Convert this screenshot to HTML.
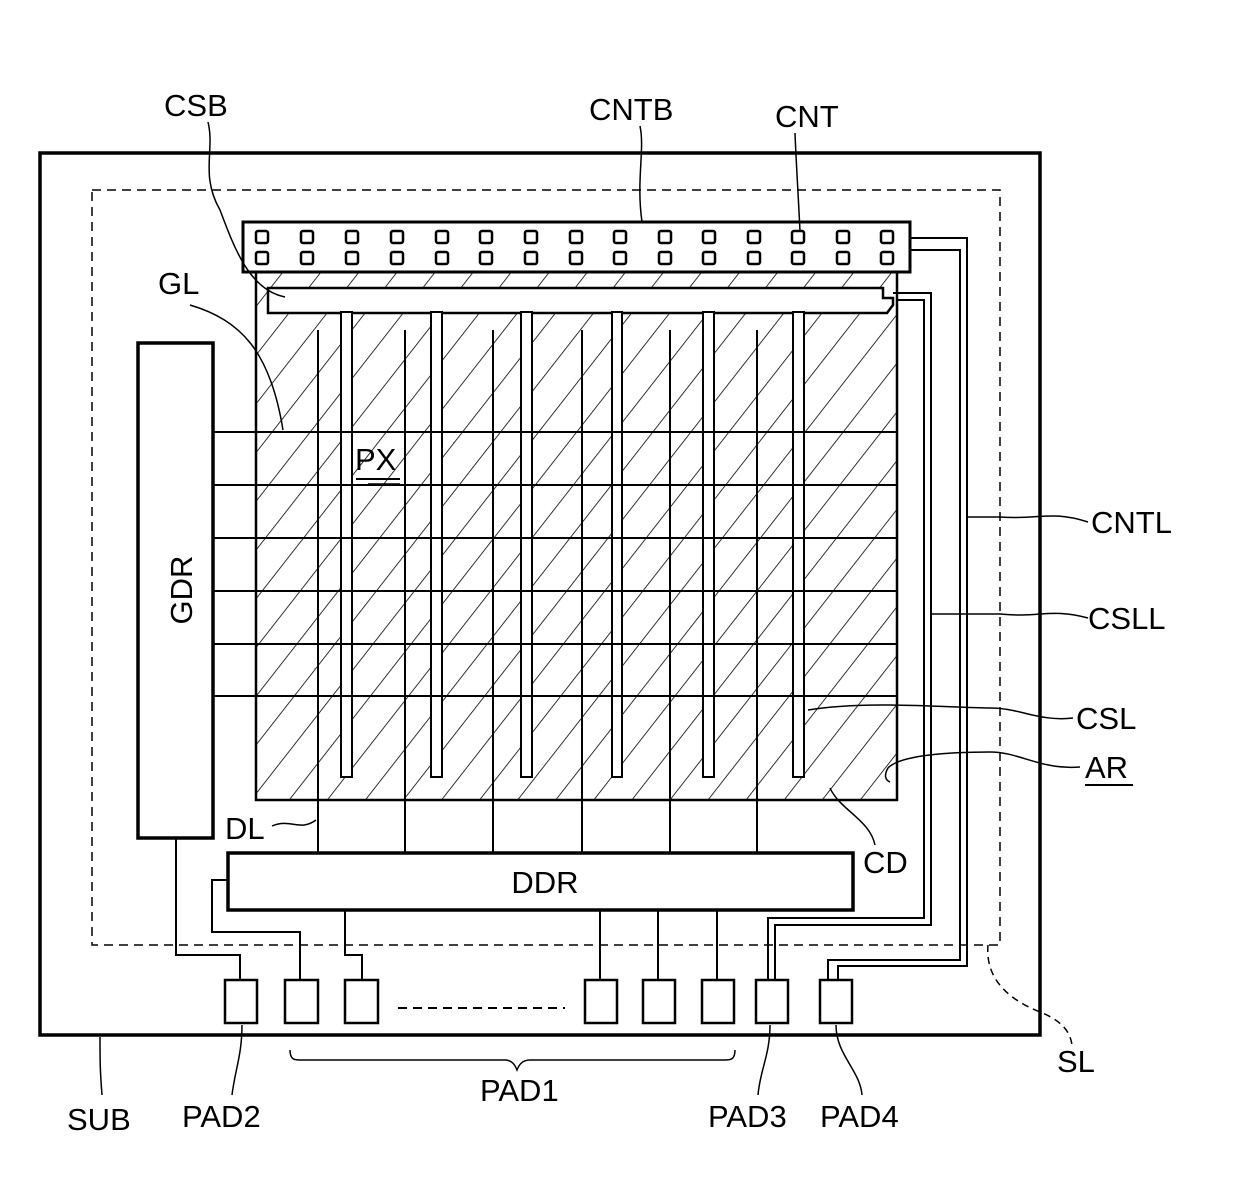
<!DOCTYPE html>
<html><head><style>
html,body{margin:0;padding:0;background:#fff}
svg{display:block}
text{font-family:"Liberation Sans",sans-serif;font-size:31px;fill:#000}
</style></head><body>
<svg width="1240" height="1187" viewBox="0 0 1240 1187" xmlns="http://www.w3.org/2000/svg">
<defs>
<pattern id="h" patternUnits="userSpaceOnUse" width="30" height="30" patternTransform="rotate(38)">
<line x1="0" y1="0" x2="0" y2="30" stroke="#000" stroke-width="1.6"/>
</pattern>
</defs>
<!-- SUB -->
<rect x="40" y="153" width="1000" height="882" fill="none" stroke="#000" stroke-width="3.5"/>
<!-- SL dashed -->
<rect x="92" y="190" width="908" height="755" fill="none" stroke="#000" stroke-width="1.5" stroke-dasharray="9,6"/>
<!-- AR hatch -->
<rect x="256" y="272" width="641" height="528" fill="url(#h)" stroke="#000" stroke-width="2.5"/>
<!-- CSB bar -->
<path d="M268 288 H883 V298 H893 V305 L887 313 H268 Z" fill="#fff" stroke="#000" stroke-width="2.5"/>
<!-- slots -->
<g fill="#fff" stroke="#000" stroke-width="2">
<rect x="341" y="312" width="11" height="465"/>
<rect x="431" y="312" width="11" height="465"/>
<rect x="521" y="312" width="11" height="465"/>
<rect x="612" y="312" width="10" height="465"/>
<rect x="703" y="312" width="11" height="465"/>
<rect x="793" y="312" width="11" height="465"/>
</g>
<!-- gate lines -->
<g stroke="#000" stroke-width="2">
<line x1="213" y1="432" x2="897" y2="432"/>
<line x1="213" y1="485" x2="897" y2="485"/>
<line x1="213" y1="538" x2="897" y2="538"/>
<line x1="213" y1="591" x2="897" y2="591"/>
<line x1="213" y1="644" x2="897" y2="644"/>
<line x1="213" y1="696" x2="897" y2="696"/>
<!-- data lines -->
<line x1="318" y1="330" x2="318" y2="855"/>
<line x1="405" y1="330" x2="405" y2="855"/>
<line x1="493" y1="330" x2="493" y2="855"/>
<line x1="582" y1="330" x2="582" y2="855"/>
<line x1="670" y1="330" x2="670" y2="855"/>
<line x1="757" y1="330" x2="757" y2="855"/>
</g>
<!-- CNT bar -->
<rect x="243" y="222" width="667" height="50" fill="#fff" stroke="#000" stroke-width="3"/>
<g fill="none" stroke="#000" stroke-width="2.5">
<rect x="256" y="231" width="12" height="12" rx="2"/><rect x="256" y="252" width="12" height="12" rx="2"/>
<rect x="301" y="231" width="12" height="12" rx="2"/><rect x="301" y="252" width="12" height="12" rx="2"/>
<rect x="346" y="231" width="12" height="12" rx="2"/><rect x="346" y="252" width="12" height="12" rx="2"/>
<rect x="391" y="231" width="12" height="12" rx="2"/><rect x="391" y="252" width="12" height="12" rx="2"/>
<rect x="436" y="231" width="12" height="12" rx="2"/><rect x="436" y="252" width="12" height="12" rx="2"/>
<rect x="480" y="231" width="12" height="12" rx="2"/><rect x="480" y="252" width="12" height="12" rx="2"/>
<rect x="525" y="231" width="12" height="12" rx="2"/><rect x="525" y="252" width="12" height="12" rx="2"/>
<rect x="570" y="231" width="12" height="12" rx="2"/><rect x="570" y="252" width="12" height="12" rx="2"/>
<rect x="614" y="231" width="12" height="12" rx="2"/><rect x="614" y="252" width="12" height="12" rx="2"/>
<rect x="659" y="231" width="12" height="12" rx="2"/><rect x="659" y="252" width="12" height="12" rx="2"/>
<rect x="703" y="231" width="12" height="12" rx="2"/><rect x="703" y="252" width="12" height="12" rx="2"/>
<rect x="748" y="231" width="12" height="12" rx="2"/><rect x="748" y="252" width="12" height="12" rx="2"/>
<rect x="792" y="231" width="12" height="12" rx="2"/><rect x="792" y="252" width="12" height="12" rx="2"/>
<rect x="837" y="231" width="12" height="12" rx="2"/><rect x="837" y="252" width="12" height="12" rx="2"/>
<rect x="881" y="231" width="12" height="12" rx="2"/><rect x="881" y="252" width="12" height="12" rx="2"/>
</g>
<!-- GDR, DDR -->
<rect x="138" y="343" width="75" height="495" fill="#fff" stroke="#000" stroke-width="3.5"/>
<rect x="228" y="853" width="625" height="57" fill="#fff" stroke="#000" stroke-width="3.5"/>
<!-- pads -->
<g fill="#fff" stroke="#000" stroke-width="2.5">
<rect x="225" y="980" width="32" height="43"/>
<rect x="285" y="980" width="33" height="43"/>
<rect x="345" y="980" width="33" height="43"/>
<rect x="585" y="980" width="32" height="43"/>
<rect x="643" y="980" width="32" height="43"/>
<rect x="702" y="980" width="32" height="43"/>
<rect x="756" y="980" width="32" height="43"/>
<rect x="820" y="980" width="32" height="43"/>
</g>
<line x1="398" y1="1008" x2="565" y2="1008" stroke="#000" stroke-width="2" stroke-dasharray="9,6"/>
<!-- wires -->
<g fill="none" stroke="#000" stroke-width="2">
<path d="M176 838 V955 H240 V980"/>
<path d="M228 880 H212 V932 H300 V980"/>
<path d="M345 910 V955 H362 V980"/>
<path d="M600 910 V980"/><path d="M658 910 V980"/><path d="M717 910 V980"/>
<!-- CSLL -->
<path d="M893 293 H931 V925 H775 V980"/>
<path d="M897 300 H924 V918 H768 V980"/>
<!-- CNTL -->
<path d="M910 238 H967 V966 H838 V980"/>
<path d="M910 250 H960 V960 H828 V980"/>
<line x1="897" y1="305" x2="897" y2="800"/>
</g>
<!-- leaders -->
<g fill="none" stroke="#000" stroke-width="1.5">
<path d="M208 122 C215 150 200 175 220 210 C235 250 250 290 285 297"/>
<path d="M640 126 C645 150 636 180 642 222"/>
<path d="M795 133 C796 160 798 190 800 231"/>
<path d="M190 305 C240 320 270 350 283 430"/>
<path d="M368 484 L400 484"/>
<path d="M1088 522 C1050 510 1040 520 1000 517 L967 517"/>
<path d="M1088 618 C1050 608 1040 618 1000 614 L931 614"/>
<path d="M1073 718 C1040 722 1020 708 990 708 C950 708 870 700 808 710"/>
<path d="M1080 767 C1040 770 1020 752 990 752 C950 752 900 755 888 768 C884 775 885 780 890 782"/>
<path d="M875 845 C870 820 840 810 830 788"/>
<path d="M272 826 C290 818 300 832 316 820"/>
<path d="M988 945 C985 980 1010 1000 1040 1012 C1060 1020 1070 1030 1072 1045" stroke-dasharray="7,5"/>
<path d="M100 1037 C100 1060 100 1070 102 1095"/>
<path d="M242 1025 C242 1055 235 1070 232 1095"/>
<path d="M770 1025 C770 1055 760 1070 758 1095"/>
<path d="M836 1025 C836 1055 860 1070 862 1095"/>
<path d="M290 1050 C290 1060 295 1060 300 1060 H505 C512 1060 515 1065 517 1070 C519 1065 522 1060 530 1060 H725 C730 1060 735 1060 735 1050"/>
</g>
<line x1="1085" y1="785" x2="1133" y2="785" stroke="#000" stroke-width="2"/>
<line x1="356" y1="479" x2="400" y2="479" stroke="#000" stroke-width="2"/>
<!-- labels -->
<text x="164" y="116">CSB</text>
<text x="589" y="120">CNTB</text>
<text x="775" y="127">CNT</text>
<text x="158" y="294">GL</text>
<text x="355" y="470">PX</text>
<text transform="translate(192,590) rotate(-90)" text-anchor="middle">GDR</text>
<text x="1091" y="533">CNTL</text>
<text x="1088" y="629">CSLL</text>
<text x="1076" y="729">CSL</text>
<text x="1085" y="778">AR</text>
<text x="863" y="873">CD</text>
<text x="225" y="839">DL</text>
<text x="545" y="893" text-anchor="middle">DDR</text>
<text x="67" y="1130">SUB</text>
<text x="182" y="1127">PAD2</text>
<text x="480" y="1101">PAD1</text>
<text x="708" y="1127">PAD3</text>
<text x="820" y="1127">PAD4</text>
<text x="1057" y="1072">SL</text>
</svg>
</body></html>
